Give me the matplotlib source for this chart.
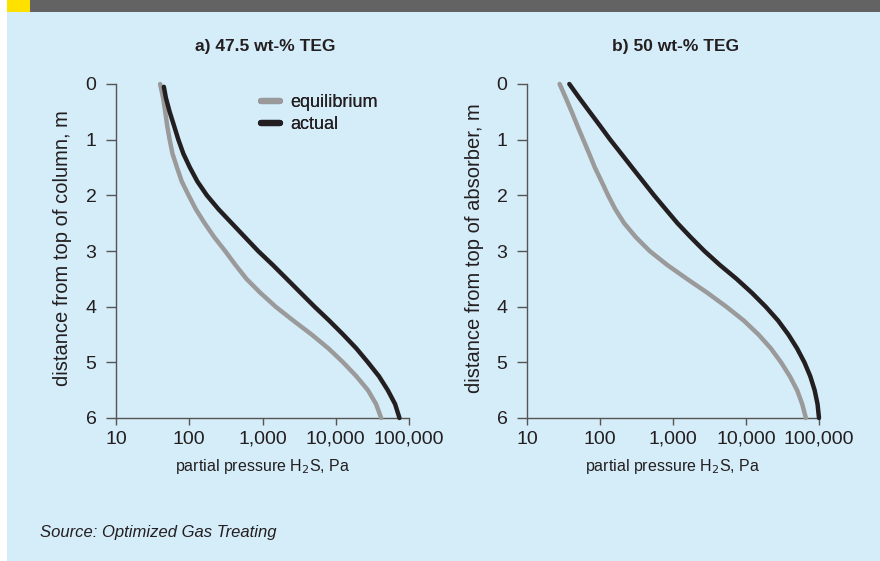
import matplotlib
matplotlib.use("Agg")
import matplotlib.pyplot as plt
from matplotlib.patches import Rectangle
from matplotlib.lines import Line2D
from matplotlib.ticker import FixedLocator, NullLocator

# ---------------- data ----------------
depth_a_eq = [0.0, 0.25, 0.5, 0.75, 1.0, 1.25, 1.5, 1.75, 2.0, 2.25, 2.5, 2.75, 3.0,
              3.25, 3.5, 3.75, 4.0, 4.25, 4.5, 4.75, 5.0, 5.25, 5.5, 5.75, 6.0]
press_a_eq = [40, 44, 47, 50, 54, 59, 68, 79, 98, 123, 162, 219, 309,
              427, 603, 933, 1510, 2630, 4680, 7940, 12600, 19100, 27500, 35500, 41700]

depth_a_act = [0.05, 0.25, 0.5, 0.75, 1.0, 1.25, 1.5, 1.75, 2.0, 2.25, 2.5, 2.75, 3.0,
               3.25, 3.5, 3.75, 4.0, 4.25, 4.5, 4.75, 5.0, 5.25, 5.5, 5.75, 6.0]
press_a_act = [45, 48, 54, 62, 71, 83, 102, 129, 174, 251, 380, 575, 871,
               1380, 2140, 3310, 5130, 8130, 12600, 19100, 27500, 38900, 51300, 64600, 74100]

depth_b = [0.0, 0.25, 0.5, 0.75, 1.0, 1.25, 1.5, 1.75, 2.0, 2.25, 2.5, 2.75, 3.0,
           3.25, 3.5, 3.75, 4.0, 4.25, 4.5, 4.75, 5.0, 5.25, 5.5, 5.75, 6.0]
press_b_eq = [28, 34, 41, 49, 59, 71, 85, 105, 129, 162, 214, 309, 479,
              832, 1550, 2950, 5370, 9330, 14800, 21900, 30200, 39800, 50100, 58900, 66100]
press_b_act = [38, 52, 72, 100, 138, 195, 275, 389, 550, 794, 1150, 1740, 2690,
               4370, 7410, 12000, 18600, 27500, 38000, 50100, 63100, 75900, 87100, 95500, 100000]

x_ticks = [10, 100, 1000, 10000, 100000]
x_ticklabels = ["10", "100", "1,000", "10,000", "100,000"]
y_ticks = [0, 1, 2, 3, 4, 5, 6]

titles = ["a) 47.5 wt-% TEG", "b) 50 wt-% TEG"]
ylabels = ["distance from top of column, m", "distance from top of absorber, m"]
xlabel = "partial pressure H$_2$S, Pa"
series_names = ["equilibrium", "actual"]
source = "Source: Optimized Gas Treating"

# ---------------- style ----------------
BG = "#d5ecf9"
BANNER = "#636363"
YELLOW = "#ffe100"
GRAY = "#9a9a9a"
BLACK = "#231f20"
AXC = "#555555"
TXT = "#231f20"
FONT = "Liberation Sans"

W, H = 880, 561
fig = plt.figure(figsize=(W / 100, H / 100), dpi=100)
fig.patch.set_facecolor("white")

def fx(px):
    return px / W

def fy(py):
    return 1 - py / H

fig.patches.append(Rectangle((fx(7), 0), 1 - fx(7), 1, transform=fig.transFigure,
                             facecolor=BG, edgecolor="none", zorder=-10))
fig.patches.append(Rectangle((fx(7), fy(12)), 1 - fx(7), 12 / H, transform=fig.transFigure,
                             facecolor=BANNER, edgecolor="none", zorder=-9))
fig.patches.append(Rectangle((fx(7), fy(12)), fx(23), 12 / H, transform=fig.transFigure,
                             facecolor=YELLOW, edgecolor="none", zorder=-8))

panels = [
    dict(x0=116, x1=409, eq=(depth_a_eq, press_a_eq), act=(depth_a_act, press_a_act),
         ylab_x=63),
    dict(x0=527, x1=819, eq=(depth_b, press_b_eq), act=(depth_b, press_b_act),
         ylab_x=474),
]
y_top, y_bot = 84, 418

for i, p in enumerate(panels):
    ax = fig.add_axes([fx(p["x0"]), fy(y_bot), (p["x1"] - p["x0"]) / W, (y_bot - y_top) / H])
    ax.set_facecolor("none")
    ax.set_xscale("log")
    ax.set_xlim(10, 100000)
    ax.set_ylim(6, 0)
    ax.plot(p["eq"][1], p["eq"][0], color=GRAY, lw=3.2, solid_capstyle="round",
            solid_joinstyle="round", clip_on=False, zorder=3)
    ax.plot(p["act"][1], p["act"][0], color=BLACK, lw=3.2, solid_capstyle="round",
            solid_joinstyle="round", clip_on=False, zorder=4)
    for s in ["top", "right"]:
        ax.spines[s].set_visible(False)
    for s in ["left", "bottom"]:
        ax.spines[s].set_color(AXC)
        ax.spines[s].set_linewidth(1.0)
    ax.xaxis.set_major_locator(FixedLocator(x_ticks))
    ax.xaxis.set_minor_locator(NullLocator())
    ax.set_xticklabels(x_ticklabels)
    ax.set_yticks(y_ticks)
    ax.tick_params(axis="y", direction="out", length=7, width=1.0, color=AXC,
                   labelsize=14, labelcolor=TXT, pad=7)
    ax.tick_params(axis="x", direction="out", length=5, width=1.0, color=AXC,
                   labelsize=14, labelcolor=TXT, pad=4)
    for lab in ax.get_xticklabels() + ax.get_yticklabels():
        lab.set_fontfamily(FONT)
    # titles
    fig.text(fx((p["x0"] + p["x1"]) / 2 + 3), fy(47), titles[i], ha="center", va="center",
             fontsize=12.5, fontweight="bold", family=FONT, color=TXT)
    # y label
    fig.text(fx(p["ylab_x"]), fy(248), ylabels[i], rotation=90, ha="center", va="center",
             fontsize=14.5, family=FONT, color=TXT)
    # x label
    fig.text(fx((p["x0"] + p["x1"]) / 2), fy(466), xlabel, ha="center", va="center",
             fontsize=11.5, family=FONT, color=TXT)
    handles = [Line2D([], [], color=GRAY, lw=4.5, solid_capstyle="round"),
               Line2D([], [], color=BLACK, lw=4.5, solid_capstyle="round")]
    leg = ax.legend(handles, series_names, loc="upper left",
                    bbox_to_anchor=((259 - p["x0"]) / (p["x1"] - p["x0"]) - 0.012, 0.985),
                    frameon=False, handlelength=1.05, handletextpad=0.55, labelspacing=0.25,
                    borderpad=0.0, borderaxespad=0.3,
                    prop=dict(family=FONT, size=13))
    for t in leg.get_texts():
        t.set_color(TXT)

fig.text(fx(40), fy(532), source, ha="left", va="center", fontsize=12, style="italic",
         family=FONT, color=TXT)

fig.savefig("out.png", dpi=100, facecolor=fig.get_facecolor())
